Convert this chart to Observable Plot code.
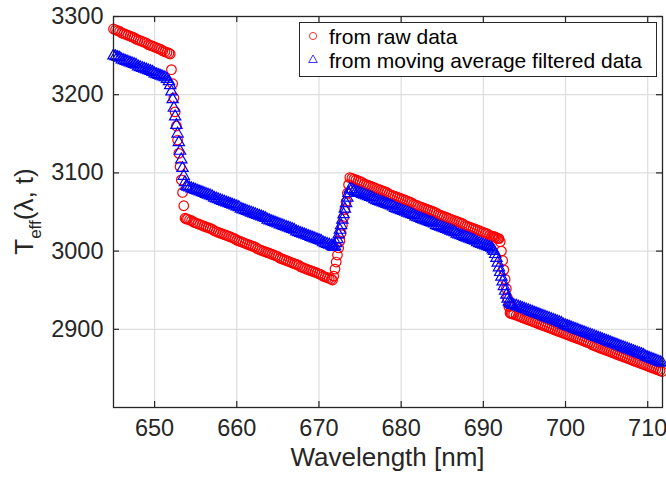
<!DOCTYPE html>
<html><head><meta charset="utf-8">
<script src="https://cdn.jsdelivr.net/npm/d3@7"></script>
<script src="https://cdn.jsdelivr.net/npm/@observablehq/plot@0.6"></script>
<style>html,body{margin:0;padding:0;background:#fff;overflow:hidden}</style>
</head><body><div id="chart"></div>
<script>
// Wavelength samples [nm]
const wavelength = [
 645, 645.25, 645.5, 645.75,
 646, 646.25, 646.5, 646.75,
 647, 647.25, 647.5, 647.75,
 648, 648.25, 648.5, 648.75,
 649, 649.25, 649.5, 649.75,
 650, 650.25, 650.5, 650.75,
 651, 651.25, 651.5, 651.75,
 651.9, 652.05, 652.2, 652.35, 652.5, 652.65, 652.8, 652.95, 653.1, 653.25, 653.4, 653.55, 653.7, 653.85,
 654, 654.25, 654.5, 654.75,
 655, 655.25, 655.5, 655.75,
 656, 656.25, 656.5, 656.75,
 657, 657.25, 657.5, 657.75,
 658, 658.25, 658.5, 658.75,
 659, 659.25, 659.5, 659.75,
 660, 660.25, 660.5, 660.75,
 661, 661.25, 661.5, 661.75,
 662, 662.25, 662.5, 662.75,
 663, 663.25, 663.5, 663.75,
 664, 664.25, 664.5, 664.75,
 665, 665.25, 665.5, 665.75,
 666, 666.25, 666.5, 666.75,
 667, 667.25, 667.5, 667.75,
 668, 668.25, 668.5, 668.75,
 669, 669.25, 669.5, 669.75,
 670, 670.25, 670.5, 670.75,
 671, 671.25, 671.5,
 671.65, 671.8, 671.95, 672.1, 672.25, 672.4, 672.55, 672.7, 672.85, 673, 673.15, 673.3, 673.45, 673.6, 673.75,
 674, 674.25, 674.5, 674.75,
 675, 675.25, 675.5, 675.75,
 676, 676.25, 676.5, 676.75,
 677, 677.25, 677.5, 677.75,
 678, 678.25, 678.5, 678.75,
 679, 679.25, 679.5, 679.75,
 680, 680.25, 680.5, 680.75,
 681, 681.25, 681.5, 681.75,
 682, 682.25, 682.5, 682.75,
 683, 683.25, 683.5, 683.75,
 684, 684.25, 684.5, 684.75,
 685, 685.25, 685.5, 685.75,
 686, 686.25, 686.5, 686.75,
 687, 687.25, 687.5, 687.75,
 688, 688.25, 688.5, 688.75,
 689, 689.25, 689.5, 689.75,
 690, 690.25, 690.5, 690.75,
 691,
 691.15, 691.3, 691.45, 691.6, 691.75, 691.9, 692.05, 692.2, 692.35, 692.5, 692.65, 692.8, 692.95, 693.1, 693.25, 693.4, 693.55, 693.7,
 694, 694.25, 694.5, 694.75,
 695, 695.25, 695.5, 695.75,
 696, 696.25, 696.5, 696.75,
 697, 697.25, 697.5, 697.75,
 698, 698.25, 698.5, 698.75,
 699, 699.25, 699.5, 699.75,
 700, 700.25, 700.5, 700.75,
 701, 701.25, 701.5, 701.75,
 702, 702.25, 702.5, 702.75,
 703, 703.25, 703.5, 703.75,
 704, 704.25, 704.5, 704.75,
 705, 705.25, 705.5, 705.75,
 706, 706.25, 706.5, 706.75,
 707, 707.25, 707.5, 707.75,
 708, 708.25, 708.5, 708.75,
 709, 709.25, 709.5, 709.75,
 710, 710.25, 710.5, 710.75,
 711, 711.25, 711.5, 711.75
];

// T_eff from raw data
const rawT = [
 3284, 3283, 3282, 3281,
 3279, 3278, 3277, 3276,
 3275, 3274, 3273, 3271,
 3270, 3269, 3268, 3267,
 3266, 3264, 3263, 3262,
 3261, 3260, 3259, 3258,
 3256, 3255, 3254, 3253,
 3252, 3232, 3214, 3196, 3178, 3160, 3142, 3125, 3108, 3091, 3075, 3058, 3042, 3041,
 3041, 3040, 3039, 3037,
 3036, 3035, 3034, 3033,
 3032, 3031, 3030, 3029,
 3028, 3026, 3025, 3024,
 3023, 3022, 3021, 3020,
 3019, 3018, 3017, 3016,
 3014, 3013, 3012, 3011,
 3010, 3009, 3008, 3007,
 3006, 3005, 3003, 3002,
 3001, 3000, 2999, 2998,
 2997, 2996, 2995, 2994,
 2993, 2991, 2990, 2989,
 2988, 2987, 2986, 2985,
 2984, 2983, 2982, 2980,
 2979, 2978, 2977, 2976,
 2975, 2974, 2973, 2972,
 2971, 2970, 2968, 2967,
 2966, 2965, 2964,
 2963, 2968, 2977, 2986, 2995, 3004, 3013, 3023, 3033, 3043, 3053, 3063, 3074, 3085, 3094,
 3093, 3092, 3091, 3090,
 3089, 3088, 3086, 3085,
 3084, 3083, 3082, 3081,
 3080, 3079, 3078, 3077,
 3076, 3075, 3073, 3072,
 3071, 3070, 3069, 3068,
 3067, 3066, 3065, 3064,
 3063, 3062, 3060, 3059,
 3058, 3057, 3056, 3055,
 3054, 3053, 3052, 3051,
 3050, 3049, 3047, 3046,
 3045, 3044, 3043, 3042,
 3041, 3040, 3039, 3038,
 3037, 3036, 3035, 3033,
 3032, 3031, 3030, 3029,
 3028, 3027, 3026, 3025,
 3024, 3023, 3022, 3020,
 3019,
 3019, 3018, 3018, 3017, 3016, 3016, 3012, 3000, 2988, 2976, 2964, 2952, 2940, 2929, 2921, 2920, 2920, 2919,
 2918, 2917, 2916, 2915,
 2914, 2913, 2912, 2911,
 2910, 2909, 2908, 2907,
 2906, 2905, 2904, 2903,
 2902, 2901, 2900, 2899,
 2898, 2897, 2896, 2895,
 2894, 2893, 2892, 2891,
 2890, 2889, 2888, 2887,
 2886, 2885, 2884, 2883,
 2882, 2880, 2879, 2878,
 2877, 2876, 2875, 2874,
 2873, 2872, 2871, 2870,
 2869, 2868, 2867, 2866,
 2865, 2864, 2863, 2862,
 2861, 2860, 2859, 2858,
 2857, 2856, 2855, 2854,
 2853, 2852, 2851, 2850,
 2849, 2848, 2847, 2846
];

// T_eff from moving-average filtered data
const filteredT = [
 3250, 3249, 3248, 3247,
 3245, 3244, 3243, 3242,
 3241, 3240, 3239, 3238,
 3236, 3235, 3234, 3233,
 3232, 3231, 3230, 3229,
 3227, 3226, 3225, 3224,
 3223, 3222, 3220, 3217,
 3212, 3204, 3194, 3183, 3172, 3161, 3150, 3139, 3128, 3117, 3106, 3096, 3088, 3083,
 3082, 3081, 3080, 3079,
 3078, 3077, 3076, 3075,
 3074, 3073, 3072, 3071,
 3070, 3068, 3067, 3066,
 3065, 3064, 3063, 3062,
 3061, 3060, 3059, 3058,
 3057, 3056, 3054, 3053,
 3052, 3051, 3050, 3049,
 3048, 3047, 3046, 3045,
 3044, 3043, 3042, 3040,
 3039, 3038, 3037, 3036,
 3035, 3034, 3033, 3032,
 3031, 3030, 3029, 3028,
 3027, 3025, 3024, 3023,
 3022, 3021, 3020, 3019,
 3018, 3017, 3016, 3015,
 3014, 3013, 3011, 3010,
 3009, 3008, 3007,
 3006, 3005, 3006, 3010, 3015, 3021, 3027, 3033, 3040, 3047, 3054, 3061, 3068, 3074, 3079,
 3079, 3077, 3076, 3075,
 3074, 3073, 3072, 3071,
 3070, 3069, 3068, 3066,
 3065, 3064, 3063, 3062,
 3061, 3060, 3059, 3058,
 3057, 3055, 3054, 3053,
 3052, 3051, 3050, 3049,
 3048, 3047, 3046, 3044,
 3043, 3042, 3041, 3040,
 3039, 3038, 3037, 3036,
 3035, 3033, 3032, 3031,
 3030, 3029, 3028, 3027,
 3026, 3025, 3024, 3022,
 3021, 3020, 3019, 3018,
 3017, 3016, 3015, 3014,
 3013, 3011, 3010, 3009,
 3008, 3007, 3006, 3005,
 3004,
 3002, 3000, 2996, 2991, 2985, 2979, 2973, 2967, 2961, 2955, 2949, 2944, 2939, 2935, 2933, 2932, 2931, 2931,
 2930, 2929, 2928, 2927,
 2926, 2925, 2924, 2923,
 2922, 2921, 2920, 2919,
 2918, 2917, 2916, 2915,
 2914, 2913, 2912, 2911,
 2910, 2909, 2908, 2906,
 2905, 2904, 2903, 2902,
 2901, 2900, 2899, 2898,
 2897, 2896, 2895, 2894,
 2893, 2892, 2891, 2890,
 2889, 2888, 2887, 2886,
 2885, 2884, 2883, 2882,
 2881, 2880, 2879, 2878,
 2877, 2876, 2875, 2874,
 2873, 2872, 2871, 2870,
 2869, 2868, 2867, 2865,
 2864, 2863, 2862, 2861,
 2860, 2859, 2858, 2857
];

const xTicks = [650, 660, 670, 680, 690, 700, 710];
const yTicks = [2900, 3000, 3100, 3200, 3300];
const seriesLabels = ["from raw data", "from moving average filtered data"];
const xLabel = "Wavelength [nm]";
const yLabelParts = ["T", "eff", "(λ, t)"];

if (wavelength.length !== rawT.length || wavelength.length !== filteredT.length) {
  throw new Error(`length mismatch ${wavelength.length} ${rawT.length} ${filteredT.length}`);
}

const raw = wavelength.map((x, i) => ({x, y: rawT[i]}));
const filt = wavelength.map((x, i) => ({x, y: filteredT[i]}));

const W = 666, H = 477, mL = 113, mR = 4, mT = 16, mB = 70;
const pw = W - mL - mR, ph = H - mT - mB;
const ink = "#262626";
const font = "'Liberation Sans', Arial, Helvetica, sans-serif";

const svg = Plot.plot({
  width: W, height: H,
  marginLeft: mL, marginRight: mR, marginTop: mT, marginBottom: mB,
  style: {fontFamily: font, fontSize: "23.5px", color: ink, background: "white", overflow: "visible"},
  x: {domain: [645, 711.8], ticks: xTicks, tickSize: 0, tickPadding: 12, tickFormat: d => `${d}`, label: null},
  y: {domain: [2800, 3300], ticks: yTicks, tickSize: 0, tickPadding: 10, tickFormat: d => `${d}`, label: null},
  marks: [
    Plot.ruleX(xTicks, {stroke: "#dedede", strokeWidth: 1.2}),
    Plot.ruleY(yTicks, {stroke: "#dedede", strokeWidth: 1.2}),
    Plot.dot(raw, {x: "x", y: "y", symbol: "circle", r: 4.8, stroke: "#ff0000", strokeWidth: 1.2, fill: "none"}),
    Plot.dot(filt, {x: "x", y: "y", symbol: "triangle", r: 4.2, stroke: "#0000ff", strokeWidth: 1.2, fill: "none"}),
    Plot.tickX(xTicks, {x: d => d, stroke: ink, strokeWidth: 1.2, insetTop: ph - 6}),
    Plot.tickX(xTicks, {x: d => d, stroke: ink, strokeWidth: 1.2, insetBottom: ph - 6}),
    Plot.tickY(yTicks, {y: d => d, stroke: ink, strokeWidth: 1.2, insetRight: pw - 6}),
    Plot.tickY(yTicks, {y: d => d, stroke: ink, strokeWidth: 1.2, insetLeft: pw - 6}),
    Plot.frame({stroke: ink, strokeWidth: 1.3})
  ]
});
document.getElementById("chart").appendChild(svg);

const s = d3.select(svg);
// x label
s.append("text")
  .attr("x", mL + pw / 2).attr("y", 466)
  .attr("text-anchor", "middle").attr("fill", ink)
  .style("font-family", font).style("font-size", "26px")
  .text(xLabel);
// y label with subscript
const yl = s.append("text")
  .attr("transform", `translate(33,${mT + ph / 2}) rotate(-90)`)
  .attr("text-anchor", "middle").attr("fill", ink)
  .style("font-family", font).style("font-size", "26px");
yl.append("tspan").text(yLabelParts[0]);
yl.append("tspan").attr("dy", 8).style("font-size", "17px").text(yLabelParts[1]);
yl.append("tspan").attr("dy", -8).text(yLabelParts[2]);

// legend
const lg = s.append("g");
lg.append("rect").attr("x", 299.5).attr("y", 22.5).attr("width", 357).attr("height", 54)
  .attr("fill", "white").attr("stroke", ink).attr("stroke-width", 1);
lg.append("circle").attr("cx", 313).attr("cy", 36).attr("r", 3.6)
  .attr("fill", "none").attr("stroke", "#ff0000").attr("stroke-width", 0.8);
lg.append("path").attr("d", d3.symbol(d3.symbolTriangle, 3.2 * 3.2 * Math.PI)())
  .attr("transform", "translate(313,60)")
  .attr("fill", "none").attr("stroke", "#0000ff").attr("stroke-width", 0.8);
seriesLabels.forEach((t, i) => {
  lg.append("text").attr("x", 329).attr("y", 44 + i * 24.3).attr("fill", "#000")
    .attr("text-anchor", "start")
    .style("font-family", font).style("font-size", "21px").text(t);
});
</script>
</body></html>
